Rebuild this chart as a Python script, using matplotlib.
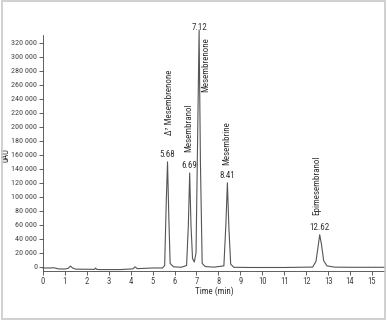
import matplotlib
matplotlib.use('Agg')
import matplotlib.pyplot as plt
from matplotlib.patches import Rectangle
from matplotlib.ticker import FuncFormatter

plt.rcParams['font.family'] = ['Roboto Condensed', 'Archivo Narrow', 'DejaVu Sans']

# chromatogram trace
time_min = [0.0, 0.3, 0.5, 0.7, 1.0, 1.15, 1.25, 1.35, 1.5, 2.0, 2.35, 2.4, 2.45,
            2.6, 3.0, 3.5, 3.8, 4.1, 4.2, 4.3, 4.5, 5.0, 5.45, 5.55, 5.62, 5.68,
            5.74, 5.8, 5.95, 6.3, 6.55, 6.63, 6.69, 6.75, 6.82, 6.9, 6.98, 7.06,
            7.12, 7.18, 7.26, 7.4, 7.8, 8.25, 8.34, 8.41, 8.48, 8.56, 8.7, 9.5,
            11.0, 12.3, 12.45, 12.55, 12.62, 12.7, 12.8, 12.95, 13.3, 14.0, 15.6]
signal = [-1500, -1500, -1200, -2800, -3000, -2000, 1200, -1500, -3200, -3300,
          -3500, -1500, -3500, -3800, -3800, -3800, -3300, -2800, 200, -2500,
          -2200, -1500, -1500, 2000, 90000, 150000, 70000, 5000, 200, -500,
          2000, 60000, 134000, 60000, 12000, 7000, 20000, 200000, 338000, 150000,
          5000, 500, -300, 1500, 60000, 120000, 55000, 4000, -500, -800,
          -800, -200, 8000, 30000, 46000, 32000, 9000, 1500, -300, -500, -500]

peak_times = [5.68, 6.69, 7.12, 8.41, 12.62]
peak_heights = [150000, 134000, 338000, 120000, 46000]
peak_names = ['Δ⁷ Mesembrenone', 'Mesembranol', 'Mesembrenone', 'Mesembrine',
              'Epimesembranol']

xticks = list(range(0, 16))
yticks = list(range(0, 320001, 20000))

fig = plt.figure(figsize=(3.87, 3.21), dpi=100)
ax = fig.add_axes([0.111, 0.156, 0.884, 0.735])

line_col = '#555555'
ax.plot(time_min, signal, color=line_col, lw=0.8, clip_on=False)

ax.set_xlim(0, 15.6)
ax.set_ylim(-5700, 331000)
ax.set_xticks(xticks)
ax.set_yticks(yticks)
ax.yaxis.set_major_formatter(FuncFormatter(lambda v, p: f'{int(v):,}'.replace(',', ' ')))
ax.tick_params(direction='out', length=3, width=0.6, colors='#444444',
               labelsize=6.2, pad=1.5)
ax.tick_params(axis='y', labelsize=5.9, pad=1.2)
for s in ['top', 'right']:
    ax.spines[s].set_visible(False)
for s in ['left', 'bottom']:
    ax.spines[s].set_color('#444444')
    ax.spines[s].set_linewidth(0.6)

ax.set_xlabel('Time (min)', fontsize=6.5, color='#333333', labelpad=0)
ax.set_ylabel('uAU', fontsize=6.2, color='#333333')
ax.yaxis.set_label_coords(-0.095, 0.49)

# retention time labels just above each apex
for t, h in zip(peak_times, peak_heights):
    ax.annotate(f'{t:.2f}', (t, min(h, 331000)), xytext=(0, 2),
                textcoords='offset points', ha='center', va='bottom',
                fontsize=6.5, color='#333333')

# compound names, rotated
name_pos = [(5.75, 188000), (6.66, 164000), (7.43, 250000), (8.39, 146000),
            (12.49, 74000)]
for name, (x, y) in zip(peak_names, name_pos):
    ax.text(x, y, name, rotation=90, ha='center', va='bottom',
            fontsize=6.5, color='#333333')

# light grey frame around the whole picture
fig.patches.append(Rectangle((0.004, 0.006), 0.992, 0.99, transform=fig.transFigure,
                             fill=False, edgecolor='#c8c8c8', lw=1.2))

fig.savefig('out.png', dpi=100)
